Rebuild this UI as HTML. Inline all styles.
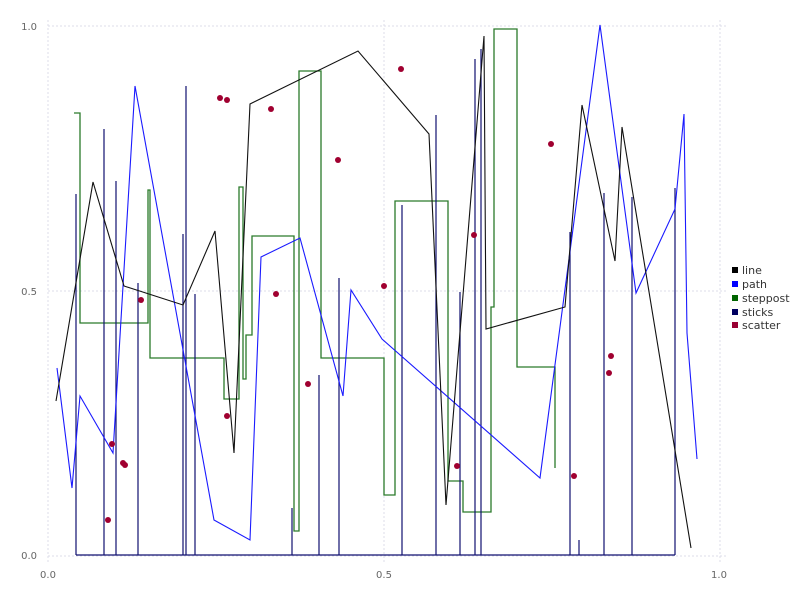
<!DOCTYPE html>
<html><head><meta charset="utf-8"><style>html,body{margin:0;padding:0;background:#fff}svg{display:block}</style></head>
<body>
<svg width="800" height="600" xmlns="http://www.w3.org/2000/svg" font-family="DejaVu Sans, Liberation Sans, sans-serif">
<rect width="800" height="600" fill="#fff"/>
<g stroke="#dcdce8" stroke-width="1" stroke-dasharray="2,2">
<line x1="48" y1="26" x2="728" y2="26"/><line x1="48" y1="291" x2="728" y2="291"/><line x1="48" y1="556" x2="728" y2="556"/>
<line x1="48" y1="20" x2="48" y2="562"/><line x1="384" y1="20" x2="384" y2="562"/><line x1="720" y1="20" x2="720" y2="562"/>
</g>
<g font-size="10" fill="#666">
<text x="37" y="30" text-anchor="end">1.0</text><text x="37" y="295" text-anchor="end">0.5</text><text x="37" y="559" text-anchor="end">0.0</text>
<text x="48" y="578" text-anchor="middle">0.0</text><text x="384" y="578" text-anchor="middle">0.5</text><text x="719" y="578" text-anchor="middle">1.0</text>
</g>
<path d="M74,113 H80 V323 H148 V190 H150 V358 H224 V399 H239 V187 H243 V379 H246 V335 H252 V236 H294 V531 H299 V71 H321 V358 H384 V495 H395 V201 H448 V481 H463 V512 H491 V307 H494 V29 H517 V367 H555 V468" fill="none" stroke="#2a7a2a" stroke-width="1.3"/>
<g stroke="#101070" stroke-width="1.2">
<line x1="76" y1="555" x2="675" y2="555"/>
<line x1="76" y1="555" x2="76" y2="194"/><line x1="104" y1="555" x2="104" y2="129"/><line x1="116" y1="555" x2="116" y2="181"/><line x1="138" y1="555" x2="138" y2="283"/><line x1="183" y1="555" x2="183" y2="234"/><line x1="186" y1="555" x2="186" y2="86"/><line x1="195" y1="555" x2="195" y2="294"/><line x1="292" y1="555" x2="292" y2="508"/><line x1="319" y1="555" x2="319" y2="375"/><line x1="339" y1="555" x2="339" y2="278"/><line x1="402" y1="555" x2="402" y2="205"/><line x1="436" y1="555" x2="436" y2="115"/><line x1="460" y1="555" x2="460" y2="292"/><line x1="475" y1="555" x2="475" y2="59"/><line x1="481" y1="555" x2="481" y2="49"/><line x1="570" y1="555" x2="570" y2="232"/><line x1="579" y1="555" x2="579" y2="540"/><line x1="604" y1="555" x2="604" y2="193"/><line x1="632" y1="555" x2="632" y2="197"/><line x1="675" y1="555" x2="675" y2="188"/>
</g>
<polyline points="57,368 72,488 80,396 113,453 135,86 214,520 250,540 261,257 300,238 343,396 351,290 382,339 540,478 600,25 636,293 675,209 684,114 687,333 697,459" fill="none" stroke="#1a1aff" stroke-width="1.1"/>
<polyline points="56,401 93,182 124,286 183,305 215,231 234,453 250,104 358,51 429,134 446,505 484,36 486,329 565,307 582,105 615,261 622,127 691,548" fill="none" stroke="#111" stroke-width="1.1"/>
<g fill="#a00030">
<circle cx="220" cy="98" r="3"/><circle cx="227" cy="100" r="3"/><circle cx="271" cy="109" r="3"/><circle cx="141" cy="300" r="3"/><circle cx="112" cy="444" r="3"/><circle cx="123" cy="463" r="3"/><circle cx="125" cy="465" r="3"/><circle cx="108" cy="520" r="3"/><circle cx="227" cy="416" r="3"/><circle cx="276" cy="294" r="3"/><circle cx="308" cy="384" r="3"/><circle cx="338" cy="160" r="3"/><circle cx="384" cy="286" r="3"/><circle cx="401" cy="69" r="3"/><circle cx="474" cy="235" r="3"/><circle cx="457" cy="466" r="3"/><circle cx="551" cy="144" r="3"/><circle cx="574" cy="476" r="3"/><circle cx="611" cy="356" r="3"/><circle cx="609" cy="373" r="3"/>
</g>
<g font-size="11" fill="#333">
<rect x="732" y="267" width="6" height="6" fill="#000"/><text x="742" y="274">line</text>
<rect x="732" y="281" width="6" height="6" fill="#0000ff"/><text x="742" y="288">path</text>
<rect x="732" y="295" width="6" height="6" fill="#006400"/><text x="742" y="302">steppost</text>
<rect x="732" y="309" width="6" height="6" fill="#000060"/><text x="742" y="316">sticks</text>
<rect x="732" y="322" width="6" height="6" fill="#990033"/><text x="742" y="329">scatter</text>
</g>
</svg>
</body></html>
